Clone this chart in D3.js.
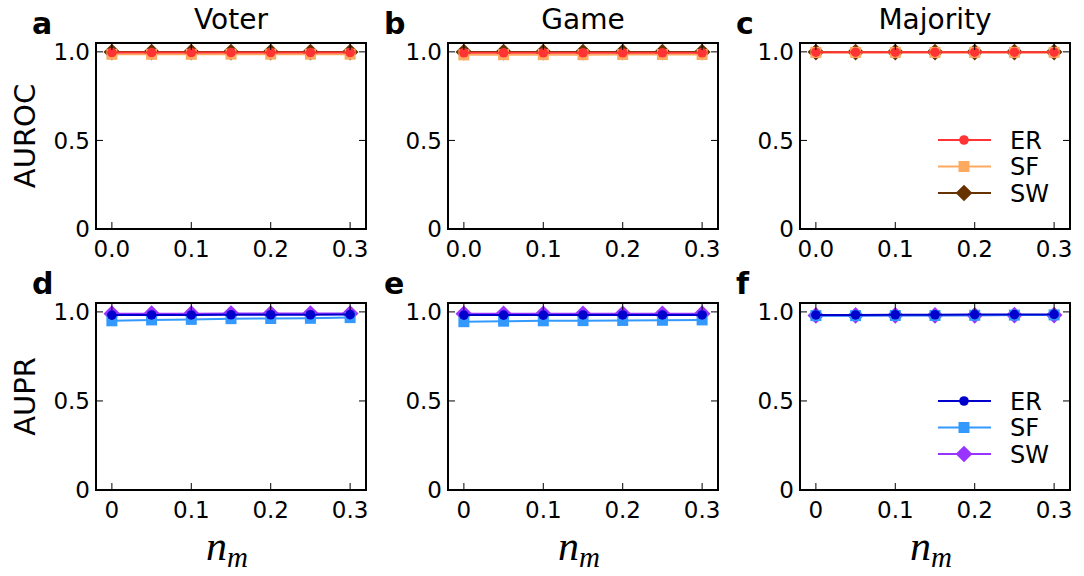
<!DOCTYPE html>
<html>
<head>
<meta charset="utf-8">
<script src="https://cdn.jsdelivr.net/npm/d3@7"></script>
<style>
  body { margin: 0; background: #fff; }
  svg { font-family: "DejaVu Sans", sans-serif; }
</style>
</head>
<body>
<div class="vis"></div>
<script>
// noise fraction values on the x axis
const nm = [0, 0.05, 0.1, 0.15, 0.2, 0.25, 0.3];

const dynamics = ["Voter", "Game", "Majority"];
const networks = ["ER", "SF", "SW"];

// AUROC (top row)
const aurocVoter = {
  ER: [0.996, 0.996, 0.996, 0.996, 0.996, 0.996, 0.996],
  SF: [0.986, 0.986, 0.986, 0.987, 0.987, 0.987, 0.987],
  SW: [0.999, 0.999, 0.999, 0.999, 0.999, 0.999, 0.999],
};
const aurocGame = {
  ER: [0.995, 0.995, 0.995, 0.995, 0.995, 0.995, 0.995],
  SF: [0.983, 0.984, 0.984, 0.984, 0.985, 0.985, 0.985],
  SW: [0.999, 0.999, 0.999, 0.999, 0.999, 0.999, 0.999],
};
const aurocMajority = {
  ER: [0.998, 0.998, 0.998, 0.998, 0.998, 0.998, 0.998],
  SF: [0.997, 0.997, 0.997, 0.997, 0.997, 0.997, 0.997],
  SW: [0.999, 0.999, 0.999, 0.999, 0.999, 0.999, 0.999],
};

// AUPR (bottom row)
const auprVoter = {
  ER: [0.982, 0.983, 0.983, 0.984, 0.984, 0.984, 0.985],
  SF: [0.950, 0.955, 0.958, 0.962, 0.963, 0.964, 0.968],
  SW: [0.990, 0.990, 0.990, 0.991, 0.991, 0.991, 0.991],
};
const auprGame = {
  ER: [0.982, 0.982, 0.982, 0.983, 0.983, 0.983, 0.983],
  SF: [0.945, 0.948, 0.950, 0.951, 0.952, 0.953, 0.955],
  SW: [0.989, 0.989, 0.989, 0.989, 0.989, 0.989, 0.990],
};
const auprMajority = {
  ER: [0.983, 0.983, 0.984, 0.984, 0.985, 0.985, 0.986],
  SF: [0.979, 0.979, 0.980, 0.980, 0.981, 0.982, 0.983],
  SW: [0.980, 0.980, 0.981, 0.981, 0.981, 0.982, 0.982],
};

const yTicks = [0, 0.5, 1.0];
const xTicks = [0, 0.1, 0.2, 0.3];
const topXLabels = ["0.0", "0.1", "0.2", "0.3"];
const bottomXLabels = ["0", "0.1", "0.2", "0.3"];
const yLabels = ["0", "0.5", "1.0"];

const topColors = { ER: "#ff3333", SF: "#fdaa60", SW: "#663300" };
const bottomColors = { ER: "#0000cc", SF: "#3399ff", SW: "#9933ff" };

const W = 1084, H = 576;
const panelLefts = [96, 448, 800];
const panelW = 270;
const rows = [
  { top: 43, bottom: 229, label: "AUROC", letters: ["a", "b", "c"], data: [aurocVoter, aurocGame, aurocMajority], colors: topColors, xl: topXLabels },
  { top: 303, bottom: 490, label: "AUPR", letters: ["d", "e", "f"], data: [auprVoter, auprGame, auprMajority], colors: bottomColors, xl: bottomXLabels },
];

const svg = d3.select(".vis").append("svg").attr("width", W).attr("height", H);

const markerPath = {
  SF: d3.symbol().type(d3.symbolSquare).size(121)(),
  SW: d3.symbol().type(d3.symbolSquare).size(140)(),
};

function drawMarker(g, name, color, cx, cy) {
  if (name === "ER") {
    g.append("circle").attr("cx", cx).attr("cy", cy).attr("r", 4.8).attr("fill", color);
  } else if (name === "SF") {
    g.append("path").attr("d", markerPath.SF).attr("fill", color)
      .attr("transform", "translate(" + cx + "," + cy + ")");
  } else {
    g.append("path").attr("d", markerPath.SW).attr("fill", color)
      .attr("transform", "translate(" + cx + "," + cy + ") rotate(45)");
  }
}

rows.forEach((row, ri) => {
  const y = d3.scaleLinear().domain([0, 1.05]).range([row.bottom, row.top]);
  panelLefts.forEach((left, ci) => {
    const x = d3.scaleLinear().domain([-0.02, 0.32]).range([left, left + panelW]);
    const g = svg.append("g");
    const ds = row.data[ci];

    // series: SW drawn first, ER on top
    ["SW", "SF", "ER"].forEach((name) => {
      const vals = nm.map((d, i) => ({ x: d, v: ds[name][i] }));
      g.append("path")
        .datum(vals)
        .attr("fill", "none")
        .attr("stroke", row.colors[name])
        .attr("stroke-width", 2)
        .attr("d", d3.line().x((d) => x(d.x)).y((d) => y(d.v)));
      vals.forEach((d) => drawMarker(g, name, row.colors[name], x(d.x), y(d.v)));
    });

    // ticks inside on all four sides
    const tickLen = 7;
    xTicks.forEach((t) => {
      g.append("line").attr("x1", x(t)).attr("x2", x(t)).attr("y1", row.bottom).attr("y2", row.bottom - tickLen)
        .attr("stroke", "#000").attr("stroke-width", 1);
      g.append("line").attr("x1", x(t)).attr("x2", x(t)).attr("y1", row.top).attr("y2", row.top + tickLen)
        .attr("stroke", "#000").attr("stroke-width", 1);
    });
    yTicks.forEach((t) => {
      g.append("line").attr("x1", left).attr("x2", left + tickLen).attr("y1", y(t)).attr("y2", y(t))
        .attr("stroke", "#000").attr("stroke-width", 1);
      g.append("line").attr("x1", left + panelW).attr("x2", left + panelW - tickLen).attr("y1", y(t)).attr("y2", y(t))
        .attr("stroke", "#000").attr("stroke-width", 1);
    });

    // frame
    g.append("rect")
      .attr("x", left).attr("y", row.top)
      .attr("width", panelW).attr("height", row.bottom - row.top)
      .attr("fill", "none").attr("stroke", "#000").attr("stroke-width", 2);

    // tick labels
    xTicks.forEach((t, i) => {
      g.append("text").attr("x", x(t)).attr("y", row.bottom + 28)
        .attr("text-anchor", "middle").attr("font-size", 23).text(row.xl[i]);
    });
    yTicks.forEach((t, i) => {
      g.append("text").attr("x", left - 6).attr("y", y(t)).attr("dy", "0.36em")
        .attr("text-anchor", "end").attr("font-size", 23).text(yLabels[i]);
    });

    // panel letter
    g.append("text").attr("x", left - 64).attr("y", row.top - 9)
      .attr("font-size", 30).attr("font-weight", "bold").text(row.letters[ci]);

    if (ri === 0) {
      g.append("text").attr("x", left + panelW / 2).attr("y", 29)
        .attr("text-anchor", "middle").attr("font-size", 28).text(dynamics[ci]);
    } else {
      const t = g.append("text").attr("x", left + panelW / 2 - 4).attr("y", 560)
        .attr("text-anchor", "middle")
        .attr("font-family", "'Liberation Serif', serif").attr("font-style", "italic");
      t.append("tspan").attr("font-size", 42).text("n");
      t.append("tspan").attr("font-size", 29).attr("dy", 7).text("m");
    }

    // legend in right column
    if (ci === 2) {
      const ly0 = ri === 0 ? 140 : 401;
      networks.forEach((name, k) => {
        const ly = ly0 + k * 26.5;
        g.append("line").attr("x1", 938).attr("x2", 991).attr("y1", ly).attr("y2", ly)
          .attr("stroke", row.colors[name]).attr("stroke-width", 2);
        drawMarker(g, name, row.colors[name], 964, ly);
        g.append("text").attr("x", 1010).attr("y", ly).attr("dy", "0.36em")
          .attr("font-size", 24).text(name);
      });
    }
  });

  // row y label
  svg.append("text")
    .attr("transform", "translate(35," + (row.top + row.bottom) / 2 + ") rotate(-90)")
    .attr("text-anchor", "middle").attr("font-size", 29).text(row.label);
});
</script>
</body>
</html>
